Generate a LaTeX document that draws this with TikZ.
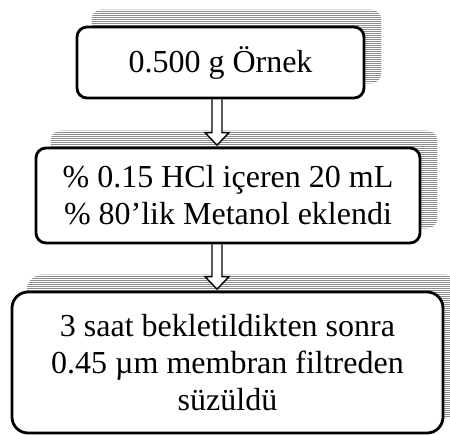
\documentclass[tikz,border=0pt]{standalone}
\usepackage{fontspec}
\setmainfont{Liberation Serif}
\usetikzlibrary{calc,backgrounds}
\tikzset{
  stepbox/.style={draw, line width=2.8pt, fill=white, rounded corners=#1, align=center,
    font=\fontsize{32}{37}\selectfont, inner sep=0pt},
  hatch/.style={black!45, line width=0.6pt},
  blockarrow/.style={draw, fill=white, line width=1.4pt, line join=miter}
}
\begin{document}
\begin{tikzpicture}[x=1pt,y=-1pt]
\useasboundingbox (0,0) rectangle (450,435);
\node[stepbox=10pt, minimum width=287pt, minimum height=71pt] (b1) at (220.5,62.5) {\raisebox{3pt}{0.500 g Örnek}};
\node[stepbox=10pt, minimum width=384pt, minimum height=95pt] (b2) at (228,195.5) {\% 0.15 HCl içeren 20 mL\\\% 80’lik Metanol eklendi};
\node[stepbox=16pt, minimum width=431pt, minimum height=141pt] (b3) at (227.5,362.5) {3 saat bekletildikten sonra\\0.45 µm membran filtreden\\süzüldü};
\coordinate (ax) at (217,0);
\begin{scope}[on background layer]
  \foreach \n/\r in {b1/10pt, b2/10pt, b3/16pt} {
    \begin{scope}
      \clip[rounded corners=\r] ([shift={(16pt,16pt)}]\n.south west) rectangle ([shift={(16pt,16pt)}]\n.north east);
      \foreach \k in {0,2,...,170}
        \draw[hatch] ([shift={(0pt,16pt)}]\n.north west) ++(0pt,-\k pt) -- ++(500pt,0pt);
    \end{scope}
  }
  \foreach \a/\b in {b1/b2, b2/b3} {
    \draw[blockarrow] ($(ax |- \a.south)+(-5pt,0pt)$) -- ($(ax |- \b.north)+(-5pt,14pt)$)
      -- ($(ax |- \b.north)+(-12pt,14pt)$) -- ($(ax |- \b.north)+(0pt,1.4pt)$)
      -- ($(ax |- \b.north)+(12pt,14pt)$) -- ($(ax |- \b.north)+(5pt,14pt)$)
      -- ($(ax |- \a.south)+(5pt,0pt)$);
  }
\end{scope}
\end{tikzpicture}
\end{document}
